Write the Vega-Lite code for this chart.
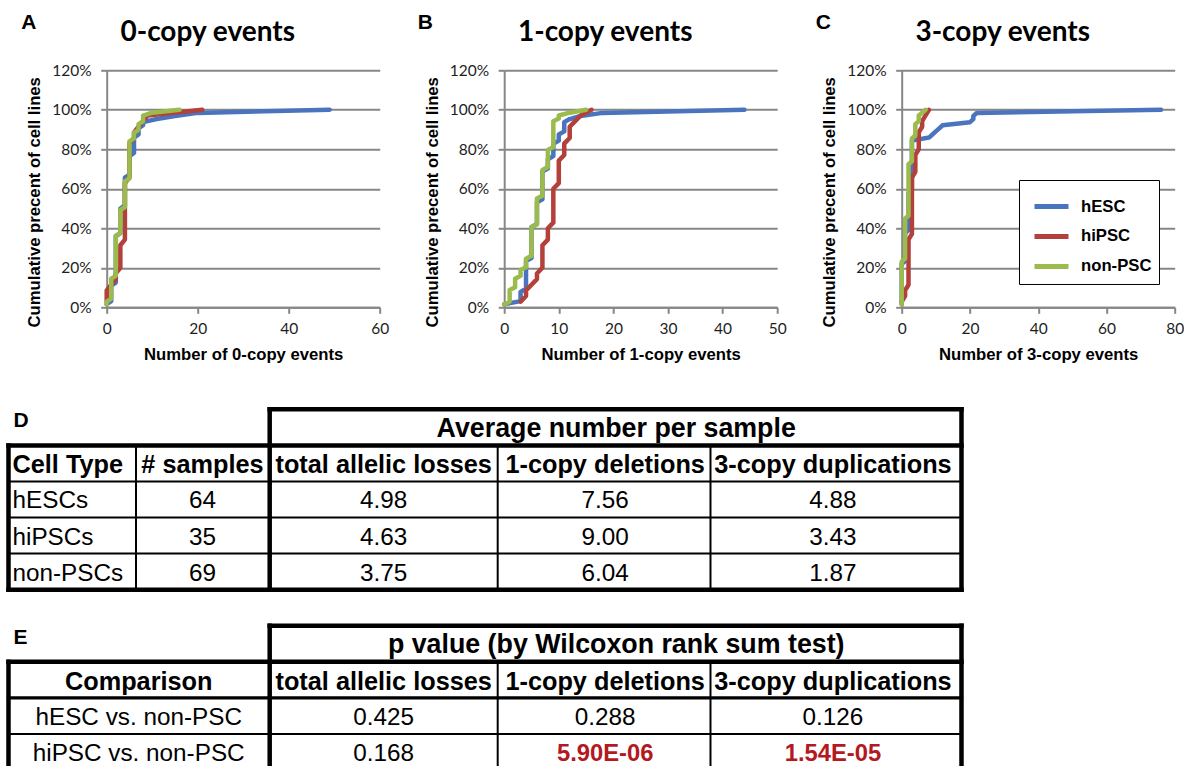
{
"$schema": "https://vega.github.io/schema/vega-lite/v6.json",
"background": "white",
"padding": {"left": 4.7, "top": 10.3, "right": 0, "bottom": 0},
"autosize": {"type": "pad"},
"config": {
  "view": {"stroke": null},
  "axis": {"domainColor": "#878787", "domainWidth": 2, "tickColor": "#878787", "tickWidth": 2, "tickSize": 6, "gridColor": "#878787", "gridWidth": 2, "labelFont": "Lato", "labelFontSize": 15.5, "labelColor": "#1e1e1e", "titleFont": "Liberation Sans", "titleFontSize": 16.7, "titleFontWeight": "bold", "titleColor": "#000"},
  "axisX": {"labelPadding": 8.5, "titlePadding": 9.5},
  "axisY": {"labelPadding": 9.5, "titlePadding": 8}
},
"datasets": {
"curves": [
{"panel":"A","series":"hESC","events":0,"pct":1.56},{"panel":"A","series":"hESC","events":1,"pct":3.13},{"panel":"A","series":"hESC","events":1,"pct":10.94},{"panel":"A","series":"hESC","events":2,"pct":12.5},{"panel":"A","series":"hESC","events":2,"pct":35.94},{"panel":"A","series":"hESC","events":3,"pct":37.5},{"panel":"A","series":"hESC","events":3,"pct":50},{"panel":"A","series":"hESC","events":4,"pct":51.56},{"panel":"A","series":"hESC","events":4,"pct":65.63},{"panel":"A","series":"hESC","events":5,"pct":67.19},{"panel":"A","series":"hESC","events":5,"pct":76.56},{"panel":"A","series":"hESC","events":6,"pct":78.13},{"panel":"A","series":"hESC","events":6,"pct":85.94},{"panel":"A","series":"hESC","events":7,"pct":87.5},{"panel":"A","series":"hESC","events":7,"pct":90.63},{"panel":"A","series":"hESC","events":8,"pct":92.19},{"panel":"A","series":"hESC","events":8,"pct":93.75},{"panel":"A","series":"hESC","events":11,"pct":95.31},{"panel":"A","series":"hESC","events":15,"pct":96.88},{"panel":"A","series":"hESC","events":20,"pct":98.44},{"panel":"A","series":"hESC","events":49,"pct":100},
{"panel":"A","series":"hiPSC","events":0,"pct":2.86},{"panel":"A","series":"hiPSC","events":0,"pct":8.57},{"panel":"A","series":"hiPSC","events":1,"pct":11.43},{"panel":"A","series":"hiPSC","events":2,"pct":14.29},{"panel":"A","series":"hiPSC","events":2,"pct":17.14},{"panel":"A","series":"hiPSC","events":3,"pct":20},{"panel":"A","series":"hiPSC","events":3,"pct":31.43},{"panel":"A","series":"hiPSC","events":4,"pct":34.29},{"panel":"A","series":"hiPSC","events":4,"pct":62.86},{"panel":"A","series":"hiPSC","events":5,"pct":65.71},{"panel":"A","series":"hiPSC","events":5,"pct":82.86},{"panel":"A","series":"hiPSC","events":6,"pct":85.71},{"panel":"A","series":"hiPSC","events":6,"pct":88.57},{"panel":"A","series":"hiPSC","events":7,"pct":91.43},{"panel":"A","series":"hiPSC","events":8,"pct":94.29},{"panel":"A","series":"hiPSC","events":9,"pct":97.14},{"panel":"A","series":"hiPSC","events":21,"pct":100},
{"panel":"A","series":"non-PSC","events":0,"pct":1.45},{"panel":"A","series":"non-PSC","events":0,"pct":2.9},{"panel":"A","series":"non-PSC","events":1,"pct":4.35},{"panel":"A","series":"non-PSC","events":1,"pct":14.49},{"panel":"A","series":"non-PSC","events":2,"pct":15.94},{"panel":"A","series":"non-PSC","events":2,"pct":36.23},{"panel":"A","series":"non-PSC","events":3,"pct":37.68},{"panel":"A","series":"non-PSC","events":3,"pct":49.28},{"panel":"A","series":"non-PSC","events":4,"pct":50.72},{"panel":"A","series":"non-PSC","events":4,"pct":63.77},{"panel":"A","series":"non-PSC","events":5,"pct":65.22},{"panel":"A","series":"non-PSC","events":5,"pct":84.06},{"panel":"A","series":"non-PSC","events":6,"pct":85.51},{"panel":"A","series":"non-PSC","events":6,"pct":88.41},{"panel":"A","series":"non-PSC","events":7,"pct":89.86},{"panel":"A","series":"non-PSC","events":7,"pct":92.75},{"panel":"A","series":"non-PSC","events":8,"pct":94.2},{"panel":"A","series":"non-PSC","events":8,"pct":97.1},{"panel":"A","series":"non-PSC","events":10,"pct":98.55},{"panel":"A","series":"non-PSC","events":16,"pct":100},
{"panel":"B","series":"hESC","events":0,"pct":1.56},{"panel":"B","series":"hESC","events":3,"pct":3.13},{"panel":"B","series":"hESC","events":3,"pct":7.81},{"panel":"B","series":"hESC","events":4,"pct":9.38},{"panel":"B","series":"hESC","events":4,"pct":23.44},{"panel":"B","series":"hESC","events":5,"pct":25},{"panel":"B","series":"hESC","events":5,"pct":40.63},{"panel":"B","series":"hESC","events":6,"pct":42.19},{"panel":"B","series":"hESC","events":6,"pct":53.13},{"panel":"B","series":"hESC","events":7,"pct":54.69},{"panel":"B","series":"hESC","events":7,"pct":68.75},{"panel":"B","series":"hESC","events":8,"pct":70.31},{"panel":"B","series":"hESC","events":8,"pct":75},{"panel":"B","series":"hESC","events":9,"pct":76.56},{"panel":"B","series":"hESC","events":9,"pct":82.81},{"panel":"B","series":"hESC","events":10,"pct":84.38},{"panel":"B","series":"hESC","events":10,"pct":87.5},{"panel":"B","series":"hESC","events":11,"pct":89.06},{"panel":"B","series":"hESC","events":11,"pct":93.75},{"panel":"B","series":"hESC","events":12,"pct":95.31},{"panel":"B","series":"hESC","events":14,"pct":96.88},{"panel":"B","series":"hESC","events":18,"pct":98.44},{"panel":"B","series":"hESC","events":44,"pct":100},
{"panel":"B","series":"hiPSC","events":3,"pct":2.86},{"panel":"B","series":"hiPSC","events":4,"pct":5.71},{"panel":"B","series":"hiPSC","events":4,"pct":8.57},{"panel":"B","series":"hiPSC","events":5,"pct":11.43},{"panel":"B","series":"hiPSC","events":6,"pct":14.29},{"panel":"B","series":"hiPSC","events":6,"pct":17.14},{"panel":"B","series":"hiPSC","events":7,"pct":20},{"panel":"B","series":"hiPSC","events":7,"pct":31.43},{"panel":"B","series":"hiPSC","events":8,"pct":34.29},{"panel":"B","series":"hiPSC","events":8,"pct":40},{"panel":"B","series":"hiPSC","events":9,"pct":42.86},{"panel":"B","series":"hiPSC","events":9,"pct":60},{"panel":"B","series":"hiPSC","events":10,"pct":62.86},{"panel":"B","series":"hiPSC","events":10,"pct":74.29},{"panel":"B","series":"hiPSC","events":11,"pct":77.14},{"panel":"B","series":"hiPSC","events":11,"pct":82.86},{"panel":"B","series":"hiPSC","events":12,"pct":85.71},{"panel":"B","series":"hiPSC","events":12,"pct":91.43},{"panel":"B","series":"hiPSC","events":13,"pct":94.29},{"panel":"B","series":"hiPSC","events":14,"pct":97.14},{"panel":"B","series":"hiPSC","events":16,"pct":100},
{"panel":"B","series":"non-PSC","events":0,"pct":1.45},{"panel":"B","series":"non-PSC","events":1,"pct":2.9},{"panel":"B","series":"non-PSC","events":1,"pct":8.7},{"panel":"B","series":"non-PSC","events":2,"pct":10.14},{"panel":"B","series":"non-PSC","events":2,"pct":14.49},{"panel":"B","series":"non-PSC","events":3,"pct":15.94},{"panel":"B","series":"non-PSC","events":3,"pct":18.84},{"panel":"B","series":"non-PSC","events":4,"pct":20.29},{"panel":"B","series":"non-PSC","events":4,"pct":24.64},{"panel":"B","series":"non-PSC","events":5,"pct":26.09},{"panel":"B","series":"non-PSC","events":5,"pct":40.58},{"panel":"B","series":"non-PSC","events":6,"pct":42.03},{"panel":"B","series":"non-PSC","events":6,"pct":55.07},{"panel":"B","series":"non-PSC","events":7,"pct":56.52},{"panel":"B","series":"non-PSC","events":7,"pct":69.57},{"panel":"B","series":"non-PSC","events":8,"pct":71.01},{"panel":"B","series":"non-PSC","events":8,"pct":79.71},{"panel":"B","series":"non-PSC","events":9,"pct":81.16},{"panel":"B","series":"non-PSC","events":9,"pct":94.2},{"panel":"B","series":"non-PSC","events":10,"pct":95.65},{"panel":"B","series":"non-PSC","events":10,"pct":97.1},{"panel":"B","series":"non-PSC","events":12,"pct":98.55},{"panel":"B","series":"non-PSC","events":15,"pct":100},
{"panel":"C","series":"hESC","events":0,"pct":1.56},{"panel":"C","series":"hESC","events":0,"pct":21.88},{"panel":"C","series":"hESC","events":1,"pct":23.44},{"panel":"C","series":"hESC","events":1,"pct":37.5},{"panel":"C","series":"hESC","events":2,"pct":39.06},{"panel":"C","series":"hESC","events":2,"pct":57.81},{"panel":"C","series":"hESC","events":3,"pct":59.38},{"panel":"C","series":"hESC","events":3,"pct":84.38},{"panel":"C","series":"hESC","events":8,"pct":85.94},{"panel":"C","series":"hESC","events":9,"pct":87.5},{"panel":"C","series":"hESC","events":10,"pct":89.06},{"panel":"C","series":"hESC","events":11,"pct":90.63},{"panel":"C","series":"hESC","events":12,"pct":92.19},{"panel":"C","series":"hESC","events":20,"pct":93.75},{"panel":"C","series":"hESC","events":21,"pct":95.31},{"panel":"C","series":"hESC","events":21,"pct":96.88},{"panel":"C","series":"hESC","events":22,"pct":98.44},{"panel":"C","series":"hESC","events":76,"pct":100},
{"panel":"C","series":"hiPSC","events":0,"pct":2.86},{"panel":"C","series":"hiPSC","events":1,"pct":5.71},{"panel":"C","series":"hiPSC","events":1,"pct":8.57},{"panel":"C","series":"hiPSC","events":2,"pct":11.43},{"panel":"C","series":"hiPSC","events":2,"pct":34.29},{"panel":"C","series":"hiPSC","events":3,"pct":37.14},{"panel":"C","series":"hiPSC","events":3,"pct":65.71},{"panel":"C","series":"hiPSC","events":4,"pct":68.57},{"panel":"C","series":"hiPSC","events":4,"pct":77.14},{"panel":"C","series":"hiPSC","events":5,"pct":80},{"panel":"C","series":"hiPSC","events":5,"pct":88.57},{"panel":"C","series":"hiPSC","events":6,"pct":91.43},{"panel":"C","series":"hiPSC","events":6,"pct":94.29},{"panel":"C","series":"hiPSC","events":7,"pct":97.14},{"panel":"C","series":"hiPSC","events":8,"pct":100},
{"panel":"C","series":"non-PSC","events":0,"pct":1.45},{"panel":"C","series":"non-PSC","events":0,"pct":23.19},{"panel":"C","series":"non-PSC","events":1,"pct":24.64},{"panel":"C","series":"non-PSC","events":1,"pct":44.93},{"panel":"C","series":"non-PSC","events":2,"pct":46.38},{"panel":"C","series":"non-PSC","events":2,"pct":72.46},{"panel":"C","series":"non-PSC","events":3,"pct":73.91},{"panel":"C","series":"non-PSC","events":3,"pct":85.51},{"panel":"C","series":"non-PSC","events":4,"pct":86.96},{"panel":"C","series":"non-PSC","events":4,"pct":92.75},{"panel":"C","series":"non-PSC","events":5,"pct":94.2},{"panel":"C","series":"non-PSC","events":5,"pct":97.1},{"panel":"C","series":"non-PSC","events":6,"pct":98.55},{"panel":"C","series":"non-PSC","events":7,"pct":100}
],
"cells": [
{"row":"r0","col":0,"span":1,"kind":"letter","text":"D"},
{"row":"r0","col":2,"span":3,"kind":"head","text":"Average number per sample"},
{"row":"r1","col":0,"span":1,"kind":"sub","text":"Cell Type"},
{"row":"r1","col":1,"span":1,"kind":"sub","text":"# samples"},
{"row":"r1","col":2,"span":1,"kind":"sub","text":"total allelic losses"},
{"row":"r1","col":3,"span":1,"kind":"sub","text":"1-copy deletions"},
{"row":"r1","col":4,"span":1,"kind":"sub","text":"3-copy duplications"},
{"row":"r2","col":0,"span":1,"kind":"body","text":"hESCs"},
{"row":"r2","col":1,"span":1,"kind":"body","text":"64"},
{"row":"r2","col":2,"span":1,"kind":"body","text":"4.98"},
{"row":"r2","col":3,"span":1,"kind":"body","text":"7.56"},
{"row":"r2","col":4,"span":1,"kind":"body","text":"4.88"},
{"row":"r3","col":0,"span":1,"kind":"body","text":"hiPSCs"},
{"row":"r3","col":1,"span":1,"kind":"body","text":"35"},
{"row":"r3","col":2,"span":1,"kind":"body","text":"4.63"},
{"row":"r3","col":3,"span":1,"kind":"body","text":"9.00"},
{"row":"r3","col":4,"span":1,"kind":"body","text":"3.43"},
{"row":"r4","col":0,"span":1,"kind":"body","text":"non-PSCs"},
{"row":"r4","col":1,"span":1,"kind":"body","text":"69"},
{"row":"r4","col":2,"span":1,"kind":"body","text":"3.75"},
{"row":"r4","col":3,"span":1,"kind":"body","text":"6.04"},
{"row":"r4","col":4,"span":1,"kind":"body","text":"1.87"},
{"row":"r6","col":0,"span":1,"kind":"letter","text":"E"},
{"row":"r6","col":2,"span":3,"kind":"head","text":"p value (by Wilcoxon rank sum test)"},
{"row":"r7","col":0,"span":2,"kind":"sub","text":"Comparison"},
{"row":"r7","col":2,"span":1,"kind":"sub","text":"total allelic losses"},
{"row":"r7","col":3,"span":1,"kind":"sub","text":"1-copy deletions"},
{"row":"r7","col":4,"span":1,"kind":"sub","text":"3-copy duplications"},
{"row":"r8","col":0,"span":2,"kind":"body","text":"hESC vs. non-PSC"},
{"row":"r8","col":2,"span":1,"kind":"body","text":"0.425"},
{"row":"r8","col":3,"span":1,"kind":"body","text":"0.288"},
{"row":"r8","col":4,"span":1,"kind":"body","text":"0.126"},
{"row":"r9","col":0,"span":2,"kind":"body","text":"hiPSC vs. non-PSC"},
{"row":"r9","col":2,"span":1,"kind":"body","text":"0.168"},
{"row":"r9","col":3,"span":1,"kind":"hi","text":"5.90E-06"},
{"row":"r9","col":4,"span":1,"kind":"hi","text":"1.54E-05"}
],
"lines": [
{"dir":"h","row":"r0","from":2,"to":5,"w":"thick"},
{"dir":"h","row":"r1","from":0,"to":5,"w":"thick"},
{"dir":"h","row":"r2","from":0,"to":5,"w":"thin"},
{"dir":"h","row":"r3","from":0,"to":5,"w":"thin"},
{"dir":"h","row":"r4","from":0,"to":5,"w":"thin"},
{"dir":"h","row":"r5","from":0,"to":5,"w":"thick"},
{"dir":"h","row":"r6","from":2,"to":5,"w":"thick"},
{"dir":"h","row":"r7","from":0,"to":5,"w":"thick"},
{"dir":"h","row":"r8","from":0,"to":5,"w":"medium"},
{"dir":"h","row":"r9","from":0,"to":5,"w":"thin"},
{"dir":"h","row":"r10","from":0,"to":5,"w":"thick"},
{"dir":"v","edge":0,"row":"r1","row2":"r5","w":"thick"},
{"dir":"v","edge":1,"row":"r1","row2":"r5","w":"thin"},
{"dir":"v","edge":2,"row":"r0","row2":"r5","w":"thick"},
{"dir":"v","edge":3,"row":"r1","row2":"r5","w":"thin"},
{"dir":"v","edge":4,"row":"r1","row2":"r5","w":"thin"},
{"dir":"v","edge":5,"row":"r0","row2":"r5","w":"thick"},
{"dir":"v","edge":0,"row":"r7","row2":"r10","w":"thick"},
{"dir":"v","edge":2,"row":"r6","row2":"r10","w":"thick"},
{"dir":"v","edge":3,"row":"r7","row2":"r10","w":"thin"},
{"dir":"v","edge":4,"row":"r7","row2":"r10","w":"thin"},
{"dir":"v","edge":5,"row":"r6","row2":"r10","w":"thick"}
]
},
"spacing": 41,
"vconcat": [
{
"spacing": 28.5,
"resolve": {"legend": {"color": "independent"}},
"hconcat": [
{
 "data": {"name": "curves"}, "width": 273, "height": 237,
 "resolve": {"axis": {"x": "independent"}},
 "layer": [
  {"transform": [{"filter": "datum.panel === 'A' && datum.series === 'hESC'"}],
   "mark": {"type": "line", "strokeWidth": 4.5, "strokeJoin": "round", "strokeCap": "round"},
   "encoding": {
    "x": {"field": "events", "type": "quantitative", "scale": {"domain": [0, 60], "nice": false, "zero": false}, "axis": {"values": [0, 20, 40, 60], "grid": false, "labelFlush": false, "labelOverlap": false, "title": "Number of 0-copy events"}},
    "y": {"field": "pct", "type": "quantitative", "scale": {"domain": [0, 120], "nice": false}, "axis": {"values": [0, 20, 40, 60, 80, 100, 120], "tickCount": 7, "labelOverlap": false, "labelExpr": "datum.value + '%'", "grid": true, "title": "Cumulative precent of cell lines", "titleY": 131.5}},
    "color": {"field": "series", "type": "nominal", "scale": {"domain": ["hESC", "hiPSC", "non-PSC"], "range": ["#4a74be", "#b4403c", "#9bbb4d"]}, "legend": null},
    "order": {"field": "pct", "type": "quantitative"}}},
  {"transform": [{"filter": "datum.panel === 'A' && datum.series === 'hiPSC'"}],
   "mark": {"type": "line", "strokeWidth": 4.5, "strokeJoin": "round", "strokeCap": "round"},
   "encoding": {
    "x": {"field": "events", "type": "quantitative", "scale": {"domain": [0, 60], "nice": false, "zero": false}, "axis": {"orient": "top", "title": "A", "labels": false, "ticks": false, "domain": false, "grid": false, "titleFont": "Liberation Sans", "titleFontSize": 21, "titleFontWeight": "bold", "titleAngle": 0, "titleAlign": "left", "titleBaseline": "alphabetic", "titleX": -86, "titleY": -42.3}},
    "y": {"field": "pct", "type": "quantitative", "scale": {"domain": [0, 120], "nice": false}, "axis": {"values": [0, 20, 40, 60, 80, 100, 120], "tickCount": 7, "labelOverlap": false, "labelExpr": "datum.value + '%'", "grid": true, "title": "Cumulative precent of cell lines", "titleY": 131.5}},
    "color": {"field": "series", "type": "nominal", "legend": null},
    "order": {"field": "pct", "type": "quantitative"}}},
  {"transform": [{"filter": "datum.panel === 'A' && datum.series === 'non-PSC'"}],
   "mark": {"type": "line", "strokeWidth": 4.5, "strokeJoin": "round", "strokeCap": "round"},
   "encoding": {
    "x": {"field": "events", "type": "quantitative", "scale": {"domain": [0, 60], "nice": false, "zero": false}, "axis": {"orient": "top", "title": "0-copy events", "labels": false, "ticks": false, "domain": false, "grid": false, "titleFont": "Lato", "titleFontSize": 28, "titleFontWeight": "bold", "titleAngle": 0, "titleAlign": "center", "titleBaseline": "alphabetic", "titleX": 100.5, "titleY": -30}},
    "y": {"field": "pct", "type": "quantitative", "scale": {"domain": [0, 120], "nice": false}, "axis": {"values": [0, 20, 40, 60, 80, 100, 120], "tickCount": 7, "labelOverlap": false, "labelExpr": "datum.value + '%'", "grid": true, "title": "Cumulative precent of cell lines", "titleY": 131.5}},
    "color": {"field": "series", "type": "nominal", "legend": null},
    "order": {"field": "pct", "type": "quantitative"}}}
 ]
},
{
 "data": {"name": "curves"}, "width": 273, "height": 237,
 "resolve": {"axis": {"x": "independent"}},
 "layer": [
  {"transform": [{"filter": "datum.panel === 'B' && datum.series === 'hESC'"}],
   "mark": {"type": "line", "strokeWidth": 4.5, "strokeJoin": "round", "strokeCap": "round"},
   "encoding": {
    "x": {"field": "events", "type": "quantitative", "scale": {"domain": [0, 50], "nice": false, "zero": false}, "axis": {"values": [0, 10, 20, 30, 40, 50], "grid": false, "labelFlush": false, "labelOverlap": false, "title": "Number of 1-copy events"}},
    "y": {"field": "pct", "type": "quantitative", "scale": {"domain": [0, 120], "nice": false}, "axis": {"values": [0, 20, 40, 60, 80, 100, 120], "tickCount": 7, "labelOverlap": false, "labelExpr": "datum.value + '%'", "grid": true, "title": "Cumulative precent of cell lines", "titleY": 131.5}},
    "color": {"field": "series", "type": "nominal", "scale": {"domain": ["hESC", "hiPSC", "non-PSC"], "range": ["#4a74be", "#b4403c", "#9bbb4d"]}, "legend": null},
    "order": {"field": "pct", "type": "quantitative"}}},
  {"transform": [{"filter": "datum.panel === 'B' && datum.series === 'hiPSC'"}],
   "mark": {"type": "line", "strokeWidth": 4.5, "strokeJoin": "round", "strokeCap": "round"},
   "encoding": {
    "x": {"field": "events", "type": "quantitative", "scale": {"domain": [0, 50], "nice": false, "zero": false}, "axis": {"orient": "top", "title": "B", "labels": false, "ticks": false, "domain": false, "grid": false, "titleFont": "Liberation Sans", "titleFontSize": 21, "titleFontWeight": "bold", "titleAngle": 0, "titleAlign": "left", "titleBaseline": "alphabetic", "titleX": -87, "titleY": -42.3}},
    "y": {"field": "pct", "type": "quantitative", "scale": {"domain": [0, 120], "nice": false}, "axis": {"values": [0, 20, 40, 60, 80, 100, 120], "tickCount": 7, "labelOverlap": false, "labelExpr": "datum.value + '%'", "grid": true, "title": "Cumulative precent of cell lines", "titleY": 131.5}},
    "color": {"field": "series", "type": "nominal", "legend": null},
    "order": {"field": "pct", "type": "quantitative"}}},
  {"transform": [{"filter": "datum.panel === 'B' && datum.series === 'non-PSC'"}],
   "mark": {"type": "line", "strokeWidth": 4.5, "strokeJoin": "round", "strokeCap": "round"},
   "encoding": {
    "x": {"field": "events", "type": "quantitative", "scale": {"domain": [0, 50], "nice": false, "zero": false}, "axis": {"orient": "top", "title": "1-copy events", "labels": false, "ticks": false, "domain": false, "grid": false, "titleFont": "Lato", "titleFontSize": 28, "titleFontWeight": "bold", "titleAngle": 0, "titleAlign": "center", "titleBaseline": "alphabetic", "titleX": 100.5, "titleY": -30}},
    "y": {"field": "pct", "type": "quantitative", "scale": {"domain": [0, 120], "nice": false}, "axis": {"values": [0, 20, 40, 60, 80, 100, 120], "tickCount": 7, "labelOverlap": false, "labelExpr": "datum.value + '%'", "grid": true, "title": "Cumulative precent of cell lines", "titleY": 131.5}},
    "color": {"field": "series", "type": "nominal", "legend": null},
    "order": {"field": "pct", "type": "quantitative"}}}
 ]
},
{
 "data": {"name": "curves"}, "width": 273, "height": 237,
 "resolve": {"axis": {"x": "independent"}},
 "layer": [
  {"transform": [{"filter": "datum.panel === 'C' && datum.series === 'hESC'"}],
   "mark": {"type": "line", "strokeWidth": 4.5, "strokeJoin": "round", "strokeCap": "round"},
   "encoding": {
    "x": {"field": "events", "type": "quantitative", "scale": {"domain": [0, 80], "nice": false, "zero": false}, "axis": {"values": [0, 20, 40, 60, 80], "grid": false, "labelFlush": false, "labelOverlap": false, "title": "Number of 3-copy events"}},
    "y": {"field": "pct", "type": "quantitative", "scale": {"domain": [0, 120], "nice": false}, "axis": {"values": [0, 20, 40, 60, 80, 100, 120], "tickCount": 7, "labelOverlap": false, "labelExpr": "datum.value + '%'", "grid": true, "title": "Cumulative precent of cell lines", "titleY": 131.5}},
    "color": {"field": "series", "type": "nominal", "scale": {"domain": ["hESC", "hiPSC", "non-PSC"], "range": ["#4a74be", "#b4403c", "#9bbb4d"]},
      "legend": {"orient": "none", "legendX": 117.3, "legendY": 109.7, "title": null, "symbolType": "stroke", "symbolSize": 1156, "symbolStrokeWidth": 5, "padding": 7, "symbolOffset": 6, "labelOffset": 10, "rowPadding": -1, "labelFont": "Liberation Sans", "labelFontSize": 16.7, "labelFontWeight": "bold", "labelColor": "#000", "strokeColor": "#000", "fillColor": "#fff"}},
    "order": {"field": "pct", "type": "quantitative"}}},
  {"transform": [{"filter": "datum.panel === 'C' && datum.series === 'hiPSC'"}],
   "mark": {"type": "line", "strokeWidth": 4.5, "strokeJoin": "round", "strokeCap": "round"},
   "encoding": {
    "x": {"field": "events", "type": "quantitative", "scale": {"domain": [0, 80], "nice": false, "zero": false}, "axis": {"orient": "top", "title": "C", "labels": false, "ticks": false, "domain": false, "grid": false, "titleFont": "Liberation Sans", "titleFontSize": 21, "titleFontWeight": "bold", "titleAngle": 0, "titleAlign": "left", "titleBaseline": "alphabetic", "titleX": -86.5, "titleY": -42.3}},
    "y": {"field": "pct", "type": "quantitative", "scale": {"domain": [0, 120], "nice": false}, "axis": {"values": [0, 20, 40, 60, 80, 100, 120], "tickCount": 7, "labelOverlap": false, "labelExpr": "datum.value + '%'", "grid": true, "title": "Cumulative precent of cell lines", "titleY": 131.5}},
    "color": {"field": "series", "type": "nominal", "legend": null},
    "order": {"field": "pct", "type": "quantitative"}}},
  {"transform": [{"filter": "datum.panel === 'C' && datum.series === 'non-PSC'"}],
   "mark": {"type": "line", "strokeWidth": 4.5, "strokeJoin": "round", "strokeCap": "round"},
   "encoding": {
    "x": {"field": "events", "type": "quantitative", "scale": {"domain": [0, 80], "nice": false, "zero": false}, "axis": {"orient": "top", "title": "3-copy events", "labels": false, "ticks": false, "domain": false, "grid": false, "titleFont": "Lato", "titleFontSize": 28, "titleFontWeight": "bold", "titleAngle": 0, "titleAlign": "center", "titleBaseline": "alphabetic", "titleX": 100.5, "titleY": -30}},
    "y": {"field": "pct", "type": "quantitative", "scale": {"domain": [0, 120], "nice": false}, "axis": {"values": [0, 20, 40, 60, 80, 100, 120], "tickCount": 7, "labelOverlap": false, "labelExpr": "datum.value + '%'", "grid": true, "title": "Cumulative precent of cell lines", "titleY": 131.5}},
    "color": {"field": "series", "type": "nominal", "legend": null},
    "order": {"field": "pct", "type": "quantitative"}}}
 ]
}
]
},
{
 "width": 855, "height": 360.8,
 "resolve": {"scale": {"x": "independent"}},
 "layer": [
  {"data": {"name": "lines"}, "transform": [{"filter": "datum.dir === 'h' && datum.w === 'thick'"}],
   "mark": {"type": "rule", "color": "#000", "strokeWidth": 4.5, "strokeCap": "square"},
   "encoding": {
    "x": {"field": "from", "type": "quantitative", "scale": {"domain": [0, 1, 2, 3, 4, 5], "range": [-98.2, 29.3, 163, 391, 603.8, 854.8], "zero": false, "nice": false}, "axis": null},
    "x2": {"field": "to"},
    "y": {"field": "row", "type": "nominal", "scale": {"type": "point", "padding": 0, "domain": ["r0","r1","r2","r3","r4","r5","r6","r7","r8","r9","r10"]}, "axis": null}}},
  {"data": {"name": "lines"}, "transform": [{"filter": "datum.dir === 'h' && datum.w === 'medium'"}],
   "mark": {"type": "rule", "color": "#000", "strokeWidth": 3.3, "strokeCap": "square"},
   "encoding": {
    "x": {"field": "from", "type": "quantitative", "scale": {"domain": [0, 1, 2, 3, 4, 5], "range": [-98.2, 29.3, 163, 391, 603.8, 854.8], "zero": false, "nice": false}, "axis": null},
    "x2": {"field": "to"},
    "y": {"field": "row", "type": "nominal", "scale": {"type": "point", "padding": 0, "domain": ["r0","r1","r2","r3","r4","r5","r6","r7","r8","r9","r10"]}, "axis": null}}},
  {"data": {"name": "lines"}, "transform": [{"filter": "datum.dir === 'h' && datum.w === 'thin'"}],
   "mark": {"type": "rule", "color": "#000", "strokeWidth": 2, "strokeCap": "square"},
   "encoding": {
    "x": {"field": "from", "type": "quantitative", "scale": {"domain": [0, 1, 2, 3, 4, 5], "range": [-98.2, 29.3, 163, 391, 603.8, 854.8], "zero": false, "nice": false}, "axis": null},
    "x2": {"field": "to"},
    "y": {"field": "row", "type": "nominal", "scale": {"type": "point", "padding": 0, "domain": ["r0","r1","r2","r3","r4","r5","r6","r7","r8","r9","r10"]}, "axis": null}}},
  {"data": {"name": "lines"}, "transform": [{"filter": "datum.dir === 'v' && datum.w === 'thick'"}],
   "mark": {"type": "rule", "color": "#000", "strokeWidth": 4.5, "strokeCap": "square"},
   "encoding": {
    "x": {"field": "edge", "type": "quantitative", "scale": {"domain": [0, 1, 2, 3, 4, 5], "range": [-98.2, 29.3, 163, 391, 603.8, 854.8], "zero": false, "nice": false}, "axis": null},
    "y": {"field": "row", "type": "nominal", "scale": {"type": "point", "padding": 0, "domain": ["r0","r1","r2","r3","r4","r5","r6","r7","r8","r9","r10"]}, "axis": null},
    "y2": {"field": "row2"}}},
  {"data": {"name": "lines"}, "transform": [{"filter": "datum.dir === 'v' && datum.w === 'thin'"}],
   "mark": {"type": "rule", "color": "#000", "strokeWidth": 2, "strokeCap": "square"},
   "encoding": {
    "x": {"field": "edge", "type": "quantitative", "scale": {"domain": [0, 1, 2, 3, 4, 5], "range": [-98.2, 29.3, 163, 391, 603.8, 854.8], "zero": false, "nice": false}, "axis": null},
    "y": {"field": "row", "type": "nominal", "scale": {"type": "point", "padding": 0, "domain": ["r0","r1","r2","r3","r4","r5","r6","r7","r8","r9","r10"]}, "axis": null},
    "y2": {"field": "row2"}}},
  {"data": {"name": "cells"}, "transform": [{"filter": "datum.kind === 'letter'"}],
   "mark": {"type": "text", "align": "left", "baseline": "middle", "dx": 5, "dy": 12, "font": "Liberation Sans", "fontSize": 21, "fontWeight": "bold", "color": "#000"},
   "encoding": {
    "x": {"field": "col", "type": "quantitative", "scale": {"domain": [0, 1, 2, 3, 4, 5], "range": [-98.2, 29.3, 163, 391, 603.8, 854.8], "zero": false, "nice": false}, "axis": null},
    "y": {"field": "row", "type": "nominal", "scale": {"type": "point", "padding": 0, "domain": ["r0","r1","r2","r3","r4","r5","r6","r7","r8","r9","r10"]}, "axis": null},
    "text": {"field": "text"}}},
  {"data": {"name": "cells"}, "transform": [{"filter": "datum.kind === 'sub' && datum.col === 0 && datum.span === 1"}],
   "mark": {"type": "text", "align": "left", "baseline": "middle", "dx": 4, "dy": 20, "font": "Liberation Sans", "fontSize": 25.3, "fontWeight": "bold", "color": "#000"},
   "encoding": {
    "x": {"field": "col", "type": "quantitative", "scale": {"domain": [0, 1, 2, 3, 4, 5], "range": [-98.2, 29.3, 163, 391, 603.8, 854.8], "zero": false, "nice": false}, "axis": null},
    "y": {"field": "row", "type": "nominal", "scale": {"type": "point", "padding": 0, "domain": ["r0","r1","r2","r3","r4","r5","r6","r7","r8","r9","r10"]}, "axis": null},
    "text": {"field": "text"}}},
  {"data": {"name": "cells"}, "transform": [{"filter": "datum.kind === 'body' && datum.col === 0 && datum.span === 1"}],
   "mark": {"type": "text", "align": "left", "baseline": "middle", "dx": 4, "dy": 20, "font": "Liberation Sans", "fontSize": 24.3, "color": "#000"},
   "encoding": {
    "x": {"field": "col", "type": "quantitative", "scale": {"domain": [0, 1, 2, 3, 4, 5], "range": [-98.2, 29.3, 163, 391, 603.8, 854.8], "zero": false, "nice": false}, "axis": null},
    "y": {"field": "row", "type": "nominal", "scale": {"type": "point", "padding": 0, "domain": ["r0","r1","r2","r3","r4","r5","r6","r7","r8","r9","r10"]}, "axis": null},
    "text": {"field": "text"}}},
  {"data": {"name": "cells"}, "transform": [{"filter": "datum.kind === 'sub' && datum.col > 0 && datum.span === 1"}],
   "mark": {"type": "text", "align": "center", "baseline": "middle", "dy": 20, "font": "Liberation Sans", "fontSize": 25.3, "fontWeight": "bold", "color": "#000"},
   "encoding": {
    "x": {"field": "col", "type": "quantitative", "scale": {"domain": [0, 1, 2, 3, 4], "range": [-34.5, 95.8, 277, 498.5, 726.3], "zero": false, "nice": false}, "axis": null},
    "y": {"field": "row", "type": "nominal", "scale": {"type": "point", "padding": 0, "domain": ["r0","r1","r2","r3","r4","r5","r6","r7","r8","r9","r10"]}, "axis": null},
    "text": {"field": "text"}}},
  {"data": {"name": "cells"}, "transform": [{"filter": "datum.kind === 'body' && datum.col > 0 && datum.span === 1"}],
   "mark": {"type": "text", "align": "center", "baseline": "middle", "dy": 20, "font": "Liberation Sans", "fontSize": 24.3, "color": "#000"},
   "encoding": {
    "x": {"field": "col", "type": "quantitative", "scale": {"domain": [0, 1, 2, 3, 4], "range": [-34.5, 95.8, 277, 498.5, 726.3], "zero": false, "nice": false}, "axis": null},
    "y": {"field": "row", "type": "nominal", "scale": {"type": "point", "padding": 0, "domain": ["r0","r1","r2","r3","r4","r5","r6","r7","r8","r9","r10"]}, "axis": null},
    "text": {"field": "text"}}},
  {"data": {"name": "cells"}, "transform": [{"filter": "datum.kind === 'hi'"}],
   "mark": {"type": "text", "align": "center", "baseline": "middle", "dy": 20, "font": "Liberation Sans", "fontSize": 23.8, "fontWeight": "bold", "color": "#b3191f"},
   "encoding": {
    "x": {"field": "col", "type": "quantitative", "scale": {"domain": [0, 1, 2, 3, 4], "range": [-34.5, 95.8, 277, 498.5, 726.3], "zero": false, "nice": false}, "axis": null},
    "y": {"field": "row", "type": "nominal", "scale": {"type": "point", "padding": 0, "domain": ["r0","r1","r2","r3","r4","r5","r6","r7","r8","r9","r10"]}, "axis": null},
    "text": {"field": "text"}}},
  {"data": {"name": "cells"}, "transform": [{"filter": "datum.kind === 'head'"}],
   "mark": {"type": "text", "align": "center", "baseline": "middle", "dy": 19.5, "font": "Liberation Sans", "fontSize": 26.8, "fontWeight": "bold", "color": "#000"},
   "encoding": {
    "x": {"field": "col", "type": "quantitative", "scale": {"domain": [0, 2], "range": [32, 509.5], "zero": false, "nice": false}, "axis": null},
    "y": {"field": "row", "type": "nominal", "scale": {"type": "point", "padding": 0, "domain": ["r0","r1","r2","r3","r4","r5","r6","r7","r8","r9","r10"]}, "axis": null},
    "text": {"field": "text"}}},
  {"data": {"name": "cells"}, "transform": [{"filter": "datum.kind === 'sub' && datum.span === 2"}],
   "mark": {"type": "text", "align": "center", "baseline": "middle", "dy": 20, "font": "Liberation Sans", "fontSize": 25.3, "fontWeight": "bold", "color": "#000"},
   "encoding": {
    "x": {"field": "col", "type": "quantitative", "scale": {"domain": [0, 2], "range": [32, 509.5], "zero": false, "nice": false}, "axis": null},
    "y": {"field": "row", "type": "nominal", "scale": {"type": "point", "padding": 0, "domain": ["r0","r1","r2","r3","r4","r5","r6","r7","r8","r9","r10"]}, "axis": null},
    "text": {"field": "text"}}},
  {"data": {"name": "cells"}, "transform": [{"filter": "datum.kind === 'body' && datum.span === 2"}],
   "mark": {"type": "text", "align": "center", "baseline": "middle", "dy": 20, "font": "Liberation Sans", "fontSize": 24.3, "color": "#000"},
   "encoding": {
    "x": {"field": "col", "type": "quantitative", "scale": {"domain": [0, 2], "range": [32, 509.5], "zero": false, "nice": false}, "axis": null},
    "y": {"field": "row", "type": "nominal", "scale": {"type": "point", "padding": 0, "domain": ["r0","r1","r2","r3","r4","r5","r6","r7","r8","r9","r10"]}, "axis": null},
    "text": {"field": "text"}}}
 ]
}
]
}
